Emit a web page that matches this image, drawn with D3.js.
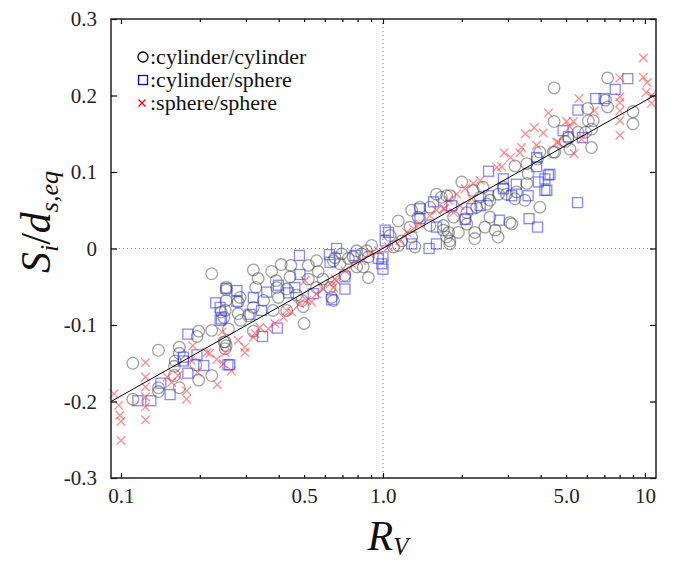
<!DOCTYPE html>
<html>
<head>
<meta charset="utf-8">
<script src="https://cdn.jsdelivr.net/npm/d3@7"></script>
<style>
  body { margin: 0; background: #fff; }
  svg text { font-family: "Liberation Serif", Tinos, "Times New Roman", Times, "DejaVu Serif", serif; }
</style>
</head>
<body>
<script>
// cylinder/cylinder  [R_V, S_i/d_s,eq]
var cylCyl = [
  [0.222,-0.033],[0.252,-0.054],[0.252,-0.068],[0.241,-0.083],[0.247,-0.090],[0.198,-0.108],[0.222,-0.107],
  [0.195,-0.115],[0.139,-0.133],[0.167,-0.129],[0.167,-0.137],[0.161,-0.147],[0.160,-0.154],[0.193,-0.152],
  [0.222,-0.166],[0.198,-0.172],[0.160,-0.166],[0.139,-0.182],[0.139,-0.187],[0.167,-0.182],[0.111,-0.150],
  [0.111,-0.197],[0.247,-0.122],[0.252,-0.127],
  [0.32,-0.028],[0.334,-0.039],[0.376,-0.030],[0.409,-0.021],[0.445,-0.022],[0.442,-0.037],[0.391,-0.042],
  [0.327,-0.051],[0.285,-0.064],[0.28,-0.07],[0.252,-0.051],[0.25,-0.081],[0.28,-0.085],[0.286,-0.094],
  [0.32,-0.077],[0.35,-0.068],[0.393,-0.051],[0.399,-0.064],[0.429,-0.053],[0.468,-0.061],[0.49,-0.068],
  [0.519,-0.022],[0.519,-0.04],[0.558,-0.016],[0.566,-0.03],[0.59,-0.04],[0.628,-0.051],[0.637,-0.064],
  [0.656,-0.012],[0.558,-0.051],[0.496,-0.076],[0.429,-0.081],[0.381,-0.081],[0.306,-0.088],[0.32,-0.108],
  [0.257,-0.105],[0.5,-0.098],[0.25,-0.122],[0.25,-0.131],
  [1.144,0.036],[1.287,0.05],[1.364,0.041],[1.6,0.071],[1.75,0.069],[1.51,0.054],[1.268,0.028],[1.287,0.015],
  [1.144,0.004],[1.18,0.01],[1.095,0.002],[1.063,0.017],[1.7,0.024],[1.75,0.015],[1.51,0.03],[0.905,0.004],
  [0.866,-0.003],[0.88,-0.011],[0.829,-0.007],[0.794,-0.003],[0.77,-0.011],[0.738,-0.013],[0.696,-0.007],
  [0.685,-0.02],[0.841,-0.024],[0.88,-0.038],[0.647,-0.068],[0.647,-0.016],[0.716,-0.035],[0.794,-0.024],
  [1.325,0.002],[1.384,0.054],
  [4.5,0.21],[4.5,0.166],[3.97,0.126],[4.53,0.126],[3.89,0.117],[2.0,0.087],[3.19,0.108],[3.54,0.111],
  [3.58,0.098],[3.54,0.085],[3.19,0.065],[3.48,0.063],[3.97,0.054],[2.56,0.041],[3.05,0.034],[3.1,0.032],
  [2.68,0.024],[2.45,0.028],[2.24,0.021],[2.24,0.013],[1.78,0.021],[1.8,0.01],[1.8,0.006],[1.94,0.021],
  [2.09,0.032],[2.06,0.039],[2.49,0.058],[2.56,0.063],[2.35,0.067],[2.28,0.054],[2.09,0.047],[1.86,0.041],
  [1.7,0.03],[2.88,0.08],[2.96,0.071],[2.76,0.071],[3.23,0.074],[1.8,0.069],[1.67,0.067],[2.41,0.08],
  [2.21,0.076],[2.75,0.015],
  [7.2,0.223],[7.07,0.194],[7.2,0.185],[9.0,0.179],[9.0,0.163],[6.04,0.183],[6.08,0.167],[6.35,0.167],
  [6.25,0.156],[5.55,0.152],[5.1,0.145],[4.97,0.14],[6.25,0.132],[5.93,0.152],[5.17,0.13],[4.47,0.126]
];

// cylinder/sphere
var cylSph = [
  [0.252,-0.052],[0.23,-0.071],[0.239,-0.077],[0.239,-0.094],[0.18,-0.112],[0.173,-0.142],[0.173,-0.147],
  [0.195,-0.139],[0.207,-0.153],[0.256,-0.152],[0.18,-0.163],[0.142,-0.176],[0.154,-0.191],[0.116,-0.199],
  [0.13,-0.199],
  [0.48,-0.009],[0.665,0.0],[0.624,-0.008],[0.628,-0.018],[0.482,-0.034],[0.277,-0.055],
  [0.277,-0.069],[0.32,-0.064],[0.36,-0.057],[0.399,-0.048],[0.436,-0.058],[0.461,-0.051],[0.344,-0.081],
  [0.311,-0.086],[0.242,-0.092],[0.395,-0.104],[0.347,-0.115],[0.26,-0.152],[0.637,-0.067],[0.542,-0.059],
  [1.02,0.024],[1.02,0.01],[1.0,-0.011],[0.99,-0.02],[1.0,-0.027],[0.96,-0.013],[1.05,0.021],[1.384,0.052],
  [1.384,0.039],[1.56,0.061],[1.6,0.028],[1.6,0.006],[1.5,0.0],[1.287,0.006],[0.782,-0.009],[0.716,-0.037],
  [0.716,-0.053],
  [2.53,0.101],[2.88,0.091],[2.88,0.078],[3.23,0.084],[3.1,0.069],[3.58,0.069],[3.86,0.119],[3.86,0.107],
  [4.28,0.096],[4.15,0.091],[3.92,0.087],[4.15,0.076],[2.78,0.037],[3.61,0.039],[3.89,0.028],[2.53,0.069],
  [2.35,0.056],[2.18,0.052],[2.06,0.038],[1.83,0.056],
  [8.6,0.222],[7.7,0.208],[6.49,0.196],[6.98,0.196],[5.55,0.181],[4.87,0.154],[5.1,0.146],[5.77,0.145],
  [4.34,0.097],[5.53,0.06],[4.22,0.076]
];

// sphere/sphere
var sphSph = [
  [0.124,-0.149],[0.124,-0.168],[0.124,-0.181],[0.124,-0.194],[0.124,-0.207],[0.124,-0.224],[0.094,-0.19],
  [0.098,-0.205],[0.099,-0.218],[0.1,-0.226],[0.1,-0.251],[0.15,-0.168],[0.156,-0.175],[0.165,-0.166],
  [0.178,-0.186],[0.178,-0.197],[0.188,-0.127],[0.196,-0.162],[0.218,-0.137],[0.232,-0.145],[0.243,-0.109],
  [0.233,-0.178],[0.185,-0.146],[0.213,-0.136],
  [0.246,-0.151],[0.264,-0.16],[0.297,-0.129],[0.297,-0.136],[0.32,-0.116],[0.339,-0.103],[0.365,-0.105],
  [0.387,-0.098],[0.417,-0.09],[0.429,-0.081],[0.448,-0.083],[0.482,-0.072],[0.512,-0.068],[0.534,-0.07],
  [0.558,-0.059],[0.59,-0.053],[0.628,-0.046],[0.656,-0.04],[0.504,-0.042],[0.325,-0.111],[0.28,-0.12],
  [0.25,-0.136],
  [0.665,-0.042],[0.716,-0.029],[0.77,-0.022],[0.829,-0.016],[0.892,-0.007],[0.96,-0.003],[1.05,0.002],
  [1.161,0.01],[1.23,0.021],[1.305,0.026],[1.384,0.032],[1.51,0.043],[1.6,0.05],[1.72,0.052],[0.647,-0.051],
  [4.28,0.177],[3.78,0.158],[4.09,0.151],[4.6,0.139],[3.38,0.132],[3.33,0.125],[3.07,0.119],[2.84,0.107],
  [2.72,0.106],[2.35,0.089],[2.21,0.085],[2.06,0.078],[1.91,0.071],[1.78,0.063],[1.7,0.052],[2.18,0.065],
  [1.97,0.056],[1.86,0.047],[3.86,0.135],[2.9,0.125],[3.5,0.15],
  [9.86,0.249],[9.86,0.224],[10.2,0.217],[10.1,0.204],[10.6,0.2],[10.6,0.19],[8.02,0.223],[8.02,0.198],
  [8.02,0.191],[8.02,0.18],[8.02,0.167],[8.02,0.148],[5.6,0.196],[6.4,0.18],[5.02,0.166],[5.33,0.166],
  [5.17,0.159],[4.66,0.139],[5.37,0.124],[5.74,0.143]
];

// fitted line end points
var fitLine = [[0.0916,-0.200],[11.0,0.201]];

var xMajor = [0.1,1,10];
var xMinor = [0.2,0.3,0.4,0.5,0.6,0.7,0.8,0.9,2,3,4,5,6,7,8,9];
var xLabelValues = [0.1,0.5,1,5,10];
var xLabelText = ["0.1","0.5","1.0","5.0","10"];
var yTicks = [-0.3,-0.2,-0.1,0,0.1,0.2,0.3];
var legendNames = [":cylinder/cylinder",":cylinder/sphere",":sphere/sphere"];

var serif = "'Liberation Serif', Tinos, 'Times New Roman', Times, 'DejaVu Serif', serif";

var drawChart = function()
{
  var width = 675;
  var height = 562;
  var left = 111, right = 656, top = 19, bottom = 478;

  var svg = d3.select("body").append("svg")
      .attr("width",width)
      .attr("height",height);

  var x = d3.scaleLog().domain([0.0916,11.02]).range([left,right]);
  var y = d3.scaleLinear().domain([-0.3,0.3]).range([bottom,top]);

  // dotted zero lines
  svg.append("line")
      .attr("x1",left).attr("x2",right)
      .attr("y1",y(0)).attr("y2",y(0))
      .attr("stroke","#888").attr("stroke-width",1)
      .attr("stroke-dasharray","1,3");
  svg.append("line")
      .attr("x1",x(1)).attr("x2",x(1))
      .attr("y1",top).attr("y2",bottom)
      .attr("stroke","#888").attr("stroke-width",1)
      .attr("stroke-dasharray","1,3");

  var pts = svg.append("g");

  // circles
  pts.append("g").selectAll("circle")
      .data(cylCyl)
      .enter()
      .append("circle")
      .attr("cx",function(d){ return x(d[0]); })
      .attr("cy",function(d){ return y(d[1]); })
      .attr("r",5.8)
      .attr("fill","none")
      .attr("stroke","rgba(70,70,70,0.5)")
      .attr("stroke-width",1.3);

  // squares
  pts.append("g").selectAll("rect")
      .data(cylSph)
      .enter()
      .append("rect")
      .attr("x",function(d){ return x(d[0])-5; })
      .attr("y",function(d){ return y(d[1])-5; })
      .attr("width",10)
      .attr("height",10)
      .attr("fill","none")
      .attr("stroke","rgba(40,40,255,0.55)")
      .attr("stroke-width",1.3);

  // crosses
  var cross = function(d){
    var cx = x(d[0]), cy = y(d[1]), s = 4.3;
    return "M"+(cx-s)+","+(cy-s)+"L"+(cx+s)+","+(cy+s)+"M"+(cx-s)+","+(cy+s)+"L"+(cx+s)+","+(cy-s);
  };
  pts.append("g").selectAll("path")
      .data(sphSph)
      .enter()
      .append("path")
      .attr("d",cross)
      .attr("fill","none")
      .attr("stroke","rgba(255,50,50,0.55)")
      .attr("stroke-width",1.3);

  // fit line
  svg.append("path")
      .datum(fitLine)
      .attr("d",d3.line().x(function(d){ return x(d[0]); }).y(function(d){ return y(d[1]); }))
      .attr("stroke","#000")
      .attr("stroke-width",1)
      .attr("fill","none");

  // axes
  var styleAxis = function(g){
    g.attr("font-family",serif);
    g.select(".domain").remove();
    g.selectAll(".tick line").attr("stroke","#000").attr("stroke-width",1.2);
    g.selectAll("text").attr("font-size",21).attr("fill","#222");
  };

  svg.append("g").attr("transform","translate(0,"+bottom+")")
      .call(d3.axisBottom(x).tickValues(xMajor).tickSize(-5).tickFormat(""))
      .call(styleAxis);
  svg.append("g").attr("transform","translate(0,"+bottom+")")
      .call(d3.axisBottom(x).tickValues(xMinor).tickSize(-3).tickFormat(""))
      .call(styleAxis);
  svg.append("g").attr("transform","translate(0,"+bottom+")")
      .call(d3.axisBottom(x).tickValues(xLabelValues).tickSize(0).tickPadding(10)
        .tickFormat(function(d,i){ return xLabelText[i]; }))
      .call(styleAxis);
  svg.append("g").attr("transform","translate(0,"+top+")")
      .call(d3.axisTop(x).tickValues(xMajor).tickSize(-5).tickFormat(""))
      .call(styleAxis);
  svg.append("g").attr("transform","translate(0,"+top+")")
      .call(d3.axisTop(x).tickValues(xMinor).tickSize(-3).tickFormat(""))
      .call(styleAxis);
  svg.append("g").attr("transform","translate("+left+",0)")
      .call(d3.axisLeft(y).tickValues(yTicks).tickSize(-6).tickPadding(14)
        .tickFormat(function(d){ return d===0 ? "0" : d.toFixed(1); }))
      .call(styleAxis);
  svg.append("g").attr("transform","translate("+right+",0)")
      .call(d3.axisRight(y).tickValues(yTicks).tickSize(-6).tickFormat(""))
      .call(styleAxis);

  // frame
  svg.append("rect")
      .attr("x",left).attr("y",top)
      .attr("width",right-left).attr("height",bottom-top)
      .attr("fill","none")
      .attr("stroke","#222")
      .attr("stroke-width",1.5);

  // legend
  var leg = svg.append("g").attr("font-family",serif);
  leg.append("circle").attr("cx",143).attr("cy",57).attr("r",5)
      .attr("fill","none").attr("stroke","#000").attr("stroke-width",1.3);
  leg.append("rect").attr("x",138.5).attr("y",75.5).attr("width",9).attr("height",9)
      .attr("fill","none").attr("stroke","#0000ff").attr("stroke-width",1.3);
  leg.append("path")
      .attr("d","M138.5,99.5L145.5,106.5M138.5,106.5L145.5,99.5")
      .attr("stroke","#ff0000").attr("stroke-width",1.3);
  leg.selectAll("text")
      .data(legendNames)
      .enter()
      .append("text")
      .attr("x",150)
      .attr("y",function(d,i){ return 64+i*23; })
      .attr("font-size",22)
      .attr("fill","#111")
      .text(function(d){ return d; });

  // x label
  var xl = svg.append("text")
      .attr("x",388).attr("y",550)
      .attr("text-anchor","middle")
      .attr("font-family",serif)
      .attr("font-size",42)
      .attr("font-style","italic")
      .attr("fill","#111");
  xl.append("tspan").text("R");
  xl.append("tspan").attr("font-size",25).attr("dy",5).text("V");

  // y label
  var yl = svg.append("text")
      .attr("transform","translate(50,222) rotate(-90)")
      .attr("text-anchor","middle")
      .attr("font-family",serif)
      .attr("font-size",42)
      .attr("font-style","italic")
      .attr("fill","#111");
  yl.append("tspan").text("S");
  yl.append("tspan").attr("font-size",26).attr("dy",8).text("i");
  yl.append("tspan").attr("dy",-8).attr("font-style","normal").text("/");
  yl.append("tspan").text("d");
  yl.append("tspan").attr("font-size",26).attr("dy",8).text("s,eq");
}

drawChart();
</script>
</body>
</html>
